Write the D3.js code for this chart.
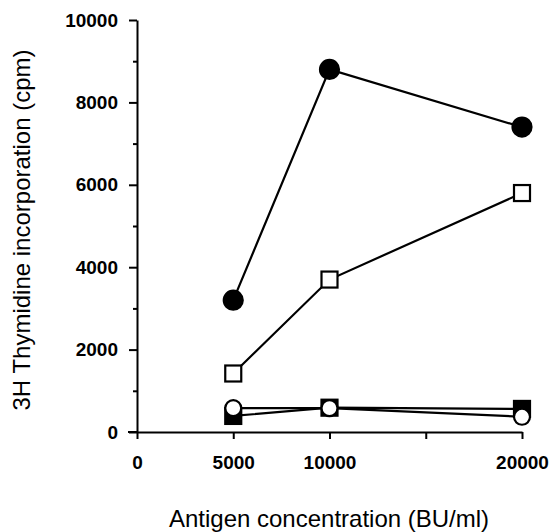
<!DOCTYPE html>
<html>
<head>
<meta charset="utf-8">
<script src="https://cdn.jsdelivr.net/npm/d3@7"></script>
<style>
  body { margin: 0; background: #fff; }
  svg { display: block; font-family: "Liberation Sans", Arial, sans-serif; }
  .tick text { font-size: 19px; font-weight: bold; fill: #000; }
  .axis path, .axis line { stroke: #000; stroke-width: 2; }
</style>
</head>
<body>
<div id="chart"></div>
<script>
// antigen concentrations (BU/ml)
const doses = [5000, 10000, 20000];

// 3H thymidine incorporation (cpm), one array per series
const filledCircle = [3200, 8800, 7400];
const openSquare = [1420, 3700, 5800];
const filledSquare = [390, 590, 560];
const openCircle = [580, 580, 370];

const yMajor = [0, 2000, 4000, 6000, 8000, 10000];
const yMinor = [1000, 3000, 5000, 7000, 9000];
const xTicks = [0, 5000, 10000, 15000, 20000];
const xLabels = ['0', '5000', '10000', '', '20000'];

const width = 554, height = 532;

const svg = d3.select('#chart').append('svg')
    .attr('width', width)
    .attr('height', height);

const x = d3.scaleLinear().domain([0, 20000]).range([137, 522]);
const y = d3.scaleLinear().domain([0, 10000]).range([432, 20]);

// y axis
svg.append('g').attr('class', 'axis')
    .attr('transform', 'translate(' + x(0) + ',0)')
    .call(d3.axisLeft(y).tickValues(yMajor).tickSize(8).tickSizeOuter(0).tickPadding(11).tickFormat(d3.format('d')));
svg.append('g').attr('class', 'axis')
    .attr('transform', 'translate(' + x(0) + ',0)')
    .call(d3.axisLeft(y).tickValues(yMinor).tickSize(4).tickSizeOuter(0).tickFormat(''))
    .select('.domain').remove();

// x axis
svg.append('g').attr('class', 'axis')
    .attr('transform', 'translate(0,' + y(0) + ')')
    .call(d3.axisBottom(x).tickValues(xTicks).tickSize(7).tickSizeOuter(0).tickPadding(17)
        .tickFormat((d, i) => xLabels[i]));

// extend y-axis zero tick past the origin
svg.append('line')
    .attr('x1', x(0) - 9).attr('x2', x(0))
    .attr('y1', y(0)).attr('y2', y(0))
    .attr('stroke', '#000').attr('stroke-width', 2);

const line = d3.line().x((d, i) => x(doses[i])).y(d => y(d));

const series = [
    {vals: filledCircle, shape: 'circle', fill: '#000'},
    {vals: openSquare, shape: 'square', fill: '#fff'},
    {vals: filledSquare, shape: 'square', fill: '#000'},
    {vals: openCircle, shape: 'circle', fill: '#fff'}
];

series.forEach(s => {
    const g = svg.append('g');
    g.append('path')
        .datum(s.vals)
        .attr('d', line)
        .attr('fill', 'none')
        .attr('stroke', '#000')
        .attr('stroke-width', 2.2);
    if (s.shape == 'circle') {
        g.selectAll('circle').data(s.vals).enter().append('circle')
            .attr('cx', (d, i) => x(doses[i]))
            .attr('cy', d => y(d))
            .attr('r', s.fill == '#000' ? 9.5 : 8)
            .attr('fill', s.fill)
            .attr('stroke', '#000')
            .attr('stroke-width', 2.2);
    } else {
        const sz = 16;
        g.selectAll('rect').data(s.vals).enter().append('rect')
            .attr('x', (d, i) => x(doses[i]) - sz / 2)
            .attr('y', d => y(d) - sz / 2)
            .attr('width', sz)
            .attr('height', sz)
            .attr('fill', s.fill)
            .attr('stroke', '#000')
            .attr('stroke-width', 2.2);
    }
});

// axis titles
svg.append('text')
    .attr('transform', 'translate(30,230) rotate(-90)')
    .attr('text-anchor', 'middle')
    .attr('font-size', 24)
    .text('3H Thymidine incorporation (cpm)');

svg.append('text')
    .attr('x', 329)
    .attr('y', 527)
    .attr('text-anchor', 'middle')
    .attr('font-size', 24)
    .text('Antigen concentration (BU/ml)');
</script>
</body>
</html>
